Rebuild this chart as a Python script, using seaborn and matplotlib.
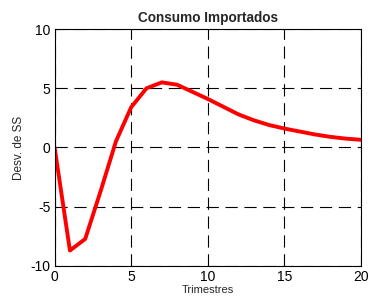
import matplotlib
matplotlib.use("Agg")
import matplotlib.pyplot as plt
import seaborn as sns
import pandas as pd

# Impulse response
trimestres = list(range(21))
desvio = [0.0, -8.7, -7.72, -3.7, 0.5, 3.4, 5.0, 5.5, 5.3, 4.7, 4.1,
          3.45, 2.8, 2.3, 1.9, 1.6, 1.35, 1.1, 0.9, 0.75, 0.65]

df = pd.DataFrame({"Trimestres": trimestres, "Desv": desvio})

sns.set_theme(style="white")
plt.rcParams["font.family"] = ["Liberation Sans", "DejaVu Sans"]
plt.rcParams["axes.unicode_minus"] = False

fig = plt.figure(figsize=(3.69, 3.06), dpi=100)
ax = fig.add_axes([0.148, 0.131, 0.83, 0.774])

sns.lineplot(data=df, x="Trimestres", y="Desv", color="red", linewidth=2.8, ax=ax)

ax.set_xlim(0, 20)
ax.set_ylim(-10, 10)
ax.set_xticks([0, 5, 10, 15, 20])
ax.set_yticks([-10, -5, 0, 5, 10])
ax.grid(True, color="black", linestyle=(0, (11, 6)), linewidth=0.8)
for s in ax.spines.values():
    s.set_color("black")
    s.set_linewidth(0.8)
ax.tick_params(direction="in", length=3, labelsize=10, colors="black", pad=3)

ax.set_title("Consumo Importados", fontsize=9.8, fontweight="bold", pad=5)
ax.set_xlabel("Trimestres", fontsize=8, labelpad=1)
ax.set_ylabel("Desv. de SS", fontsize=8.5, labelpad=4)

fig.savefig("out.png", dpi=100)
